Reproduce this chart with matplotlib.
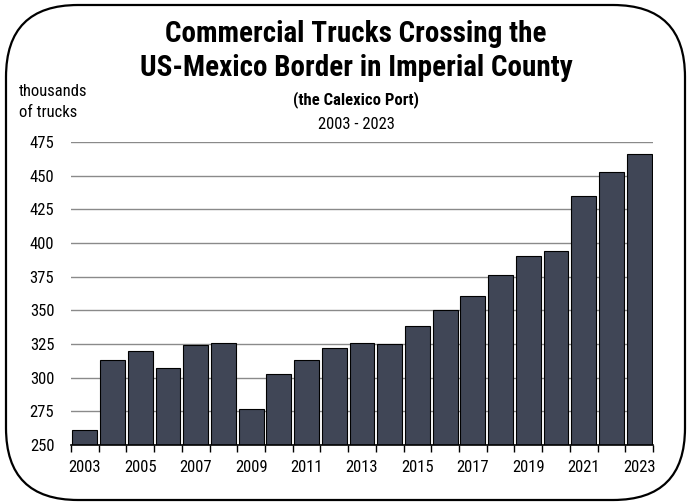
import numpy as np
import matplotlib.pyplot as plt
from matplotlib.patches import FancyBboxPatch

years = list(range(2003, 2024))
trucks = [261, 313, 320, 307, 324, 326, 277, 303, 313, 322, 326,
          325, 338, 350, 361, 376, 390, 394, 435, 453, 466]
yticks = [250, 275, 300, 325, 350, 375, 400, 425, 450, 475]

plt.rcParams["font.family"] = ["Roboto Condensed", "Liberation Sans", "DejaVu Sans"]

W, H = 687, 503
fig = plt.figure(figsize=(W / 100, H / 100), dpi=100)

# rounded frame, drawn in pixel coordinates on a background axes
bg = fig.add_axes([0, 0, 1, 1], zorder=0)
bg.set_xlim(0, W)
bg.set_ylim(H, 0)
bg.axis("off")
bg.add_patch(FancyBboxPatch((6, 5), 679, 495,
                            boxstyle="round,pad=0,rounding_size=72",
                            fill=False, ec="black", lw=1.6))

ax = fig.add_axes([71 / W, 1 - 445 / H, 582 / W, 303 / H], zorder=1)
ax.patch.set_alpha(0)
x = np.arange(len(years))
ax.bar(x, trucks, width=0.9, color="#404656", edgecolor="black",
       linewidth=0.8, zorder=3)
ax.set_ylim(250, 475)
ax.set_xlim(-0.5, len(years) - 0.5)

ax.set_yticks(yticks)
ax.set_yticklabels([str(v) for v in yticks], fontsize=12)
ax.yaxis.grid(True, color="#8a8a8a", lw=1, zorder=0)
ax.tick_params(axis="y", length=0, pad=12)

ax.set_xticks(x[::2])
ax.set_xticklabels([str(y) for y in years[::2]], fontsize=12)
ax.set_xticks(np.arange(-0.5, len(years), 1), minor=True)
ax.tick_params(axis="x", which="major", length=0, pad=11)
ax.tick_params(axis="x", which="minor", length=5, width=1, color="black")

for s in ["left", "right", "top"]:
    ax.spines[s].set_visible(False)
ax.spines["bottom"].set_color("black")
ax.spines["bottom"].set_linewidth(1.2)
ax.spines["bottom"].set_zorder(4)

fig.text(356 / W, 1 - 41.7 / H, "Commercial Trucks Crossing the",
         ha="center", va="baseline", fontsize=21, fontweight="bold")
fig.text(356 / W, 1 - 76 / H, "US-Mexico Border in Imperial County",
         ha="center", va="baseline", fontsize=21, fontweight="bold")
fig.text(356 / W, 1 - 104.3 / H, "(the Calexico Port)",
         ha="center", va="baseline", fontsize=12, fontweight="bold")
fig.text(356 / W, 1 - 129.3 / H, "2003 - 2023",
         ha="center", va="baseline", fontsize=12)
fig.text(19 / W, 1 - 95.7 / H, "thousands", ha="left", va="baseline", fontsize=12)
fig.text(19 / W, 1 - 117.3 / H, "of trucks", ha="left", va="baseline", fontsize=12)

fig.savefig("out.png", dpi=100)
